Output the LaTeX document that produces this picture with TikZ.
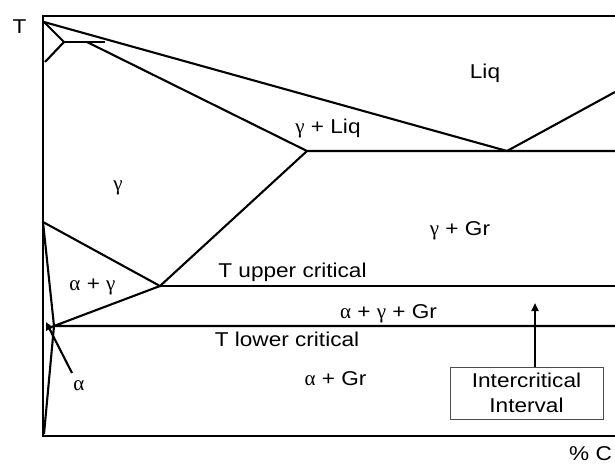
\documentclass[tikz,border=0pt]{standalone}
\usepackage{fontspec}
\setmainfont{Liberation Sans}[FakeStretch=1.13]
\newfontfamily\grk{Liberation Serif}
\newcommand{\myalpha}{{\grk\fontsize{21}{24}\selectfont α}}
\newcommand{\mygamma}{{\grk\fontsize{21}{24}\selectfont γ}}
\usetikzlibrary{arrows.meta}
\tikzset{
  phase/.style={line width=2.1pt, line join=miter},
  lbl/.style={anchor=base, inner sep=0pt, font=\fontsize{20}{24}\selectfont},
  tip/.style={-{Triangle[length=8pt,width=7pt]}, line width=2.1pt},
  infobox/.style={draw=black!70, line width=0.8pt, minimum width=153pt, minimum height=52pt, inner sep=0pt, align=center, font=\fontsize{20}{24.7}\selectfont}
}
\begin{document}
\begin{tikzpicture}[x=1pt,y=-1pt]
\useasboundingbox (0,0) rectangle (615,464);
% key points
\coordinate (TL) at (43,16);
\coordinate (BL) at (43,436);
\coordinate (TR) at (615,16);
\coordinate (BR) at (615,436);
\coordinate (melt) at (44,22);
\coordinate (peri) at (64,42);
\coordinate (deltaL) at (45,62);
\coordinate (periR) at (105,42);
\coordinate (periS) at (87,42);
\coordinate (eutS) at (307,151);
\coordinate (eut) at (507,151);
\coordinate (liqR) at (615,92);
\coordinate (eutR) at (615,151);
\coordinate (gtop) at (43,222);
\coordinate (eutd) at (160,286);
\coordinate (upR) at (615,286);
\coordinate (aEnd) at (54,326);
\coordinate (lowR) at (615,326);
\coordinate (aBot) at (44,434);
\coordinate (alphaTip) at (46,322);
\coordinate (alphaTail) at (72,373);
\coordinate (boxTip) at (535,303);
% frame
\draw[phase] (TR) -- (TL) -- (BL) -- (BR);
% peritectic
\draw[phase] (melt) -- (peri) -- (deltaL);
\draw[phase] (peri) -- (periR);
% liquidus and solidus
\draw[phase] (melt) -- (eut) -- (liqR);
\draw[phase] (periS) -- (eutS) -- (eutR);
% gamma field
\draw[phase] (gtop) -- (eutd) -- (eutS);
\draw[phase] (eutd) -- (upR);
\draw[phase] (eutd) -- (aEnd) -- (lowR);
\draw[phase] (gtop) -- (aEnd) -- (aBot);
% labels
\node[lbl] (T) at (19.5,33) {T};
\node[lbl] (liq) at (485,78) {Liq};
\node[lbl] (gliq) at (328,133) {\mygamma{} + Liq};
\node[lbl] (g) at (118,190) {\mygamma};
\node[lbl] (ggr) at (460,235) {\mygamma{} + Gr};
\node[lbl] (ag) at (92.5,290) {\myalpha{} + \mygamma};
\node[lbl] (tup) at (292.5,277.7) {T upper critical};
\node[lbl] (aggr) at (388.5,318) {\myalpha{} + \mygamma{} + Gr};
\node[lbl] (tlow) at (287,346) {T lower critical};
\node[lbl] (agr) at (335.5,385) {\myalpha{} + Gr};
\node[lbl] (a) at (79,390) {\myalpha};
\node[lbl, anchor=base west] (pc) at (569,460) {\% C};
% intercritical box
\node[infobox] (box) at (526.5,393) {Intercritical\\Interval};
\draw[tip] (boxTip |- box.north) -- (boxTip);
\draw[tip] (alphaTail) -- (alphaTip);
\end{tikzpicture}
\end{document}
